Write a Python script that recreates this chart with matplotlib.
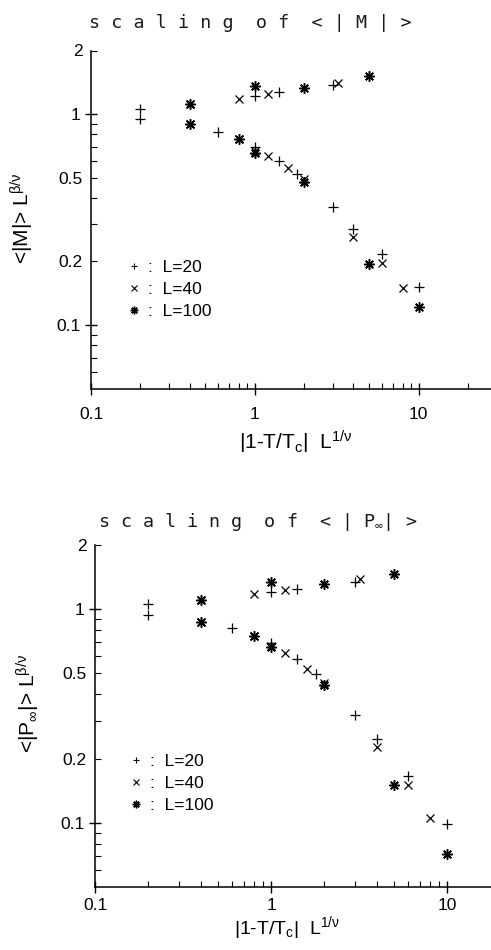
import matplotlib
matplotlib.use("Agg")
import matplotlib.pyplot as plt
from matplotlib.ticker import FixedLocator, NullFormatter, FixedFormatter
from matplotlib.lines import Line2D

plt.rcParams['font.family'] = ['Liberation Sans', 'DejaVu Sans']
plt.rcParams['mathtext.default'] = 'regular'

# ---------------- data: scaling of <|M|> ----------------
m_L20_x = [0.2, 0.2, 0.6, 1.0, 1.0, 1.4, 1.4, 1.8, 3.0, 3.0, 4.0, 6.0, 10.0]
m_L20_y = [1.056, 0.944, 0.824, 1.22, 0.70, 1.27, 0.597, 0.518, 1.372, 0.361, 0.285, 0.217, 0.151]
m_L40_x = [0.4, 0.4, 0.8, 0.8, 1.0, 1.2, 1.2, 1.6, 2.0, 3.2, 4.0, 6.0, 8.0]
m_L40_y = [1.115, 0.897, 1.178, 0.761, 0.668, 1.248, 0.632, 0.553, 0.49, 1.41, 0.262, 0.197, 0.15]
m_L100_x = [0.4, 0.4, 0.8, 1.0, 1.0, 2.0, 2.0, 5.0, 5.0, 10.0]
m_L100_y = [1.115, 0.897, 0.758, 1.362, 0.655, 1.328, 0.475, 1.514, 0.195, 0.122]

# ---------------- data: scaling of <|P_inf|> ----------------
p_L20_x = [0.2, 0.2, 0.6, 1.0, 1.0, 1.4, 1.4, 1.8, 3.0, 3.0, 4.0, 6.0, 10.0]
p_L20_y = [1.055, 0.941, 0.814, 1.195, 0.69, 1.242, 0.587, 0.495, 1.343, 0.32, 0.247, 0.165, 0.099]
p_L40_x = [0.4, 0.4, 0.8, 0.8, 1.0, 1.2, 1.2, 1.6, 2.0, 3.2, 4.0, 6.0, 8.0]
p_L40_y = [1.097, 0.873, 1.173, 0.748, 0.675, 1.233, 0.624, 0.527, 0.45, 1.377, 0.227, 0.15, 0.105]
p_L100_x = [0.4, 0.4, 0.8, 1.0, 1.0, 2.0, 2.0, 5.0, 5.0, 10.0]
p_L100_y = [1.097, 0.873, 0.748, 1.343, 0.665, 1.305, 0.442, 1.45, 0.15, 0.072]

legend_labels = [':  L=20', ':  L=40', ':  L=100']
x_ticks = [0.1, 1, 10]
x_tick_labels = ['0.1', '1', '10']
y_major = [0.1, 1]
y_minor_labels = {0.2: '0.2', 0.5: '0.5', 2: '2'}

W, H = 491, 950
fig = plt.figure(figsize=(W / 100, H / 100), dpi=100)


def px_axes(left, right, top, bottom):
    return [left / W, 1 - bottom / H, (right - left) / W, (bottom - top) / H]


ax1 = fig.add_axes(px_axes(91, 491, 50.5, 388.5))
ax2 = fig.add_axes(px_axes(95, 491, 544.6, 887.4))

ast = (8, 2, 0)
mk = dict(ls='none', color='black')


def draw(ax, d20, d40, d100):
    ax.plot(*d20, marker='+', ms=7, mew=0.9, **mk)
    ax.plot(*d40, marker='x', ms=5.5, mew=0.9, **mk)
    ax.plot(*d100, marker=ast, ms=7.5, mew=1.1, **mk)


def style(ax, xmax, xpad):
    ax.set_xscale('log')
    ax.set_yscale('log')
    ax.set_xlim(0.1, xmax)
    ax.set_ylim(0.05, 2)
    for s in ['top', 'right']:
        ax.spines[s].set_visible(False)
    for s in ['left', 'bottom']:
        ax.spines[s].set_linewidth(1.1)
    ax.xaxis.set_major_locator(FixedLocator(x_ticks))
    ax.xaxis.set_major_formatter(FixedFormatter(x_tick_labels))
    xm = [k * 10.0 ** e for e in (-1, 0, 1) for k in range(2, 10)]
    ax.xaxis.set_minor_locator(FixedLocator(xm))
    ax.xaxis.set_minor_formatter(NullFormatter())
    ax.yaxis.set_major_locator(FixedLocator(y_major))
    ax.yaxis.set_major_formatter(FixedFormatter(['0.1', '1']))
    ym = [0.06, 0.07, 0.08, 0.09] + [k / 10 for k in range(2, 10)] + [2]
    ax.yaxis.set_minor_locator(FixedLocator(ym))
    ax.yaxis.set_minor_formatter(
        FixedFormatter([y_minor_labels.get(round(v, 2), '') for v in ym]))
    ax.tick_params(axis='both', which='major', direction='inout', length=9,
                   width=1.0, labelsize=12.5)
    ax.tick_params(axis='both', which='minor', direction='in', length=4,
                   width=0.8, labelsize=12.5)
    ax.tick_params(axis='y', which='major', pad=3)
    ax.tick_params(axis='y', which='minor', pad=6.3)
    ax.tick_params(axis='x', which='major', pad=xpad)
    ax.tick_params(axis='x', which='minor', pad=xpad)


draw(ax1, (m_L20_x, m_L20_y), (m_L40_x, m_L40_y), (m_L100_x, m_L100_y))
draw(ax2, (p_L20_x, p_L20_y), (p_L40_x, p_L40_y), (p_L100_x, p_L100_y))
style(ax1, 10 ** (400 / 163.8 - 1), 9)
style(ax2, 10 ** (396 / 176 - 1), 3)

handles = [Line2D([], [], marker='+', ms=5, mew=0.8, **mk),
           Line2D([], [], marker='x', ms=4.5, mew=0.8, **mk),
           Line2D([], [], marker=ast, ms=5.5, mew=1.0, **mk)]
for ax, anchor in ((ax1, (0.095, 0.38)), (ax2, (0.09, 0.39))):
    ax.legend(handles, legend_labels, loc='upper left', bbox_to_anchor=anchor,
              frameon=False, fontsize=12.5, handlelength=0.6,
              handletextpad=0.5, labelspacing=0.4, borderpad=0, borderaxespad=0)

title_font = dict(family='DejaVu Sans Mono', fontsize=13.2, color='#1a1a1a',
                  ha='center', va='center')
fig.text(250 / W, 1 - 23 / H, 's c a l i n g  o f  < | M | >', **title_font)
fig.text(258 / W, 1 - 522 / H, r's c a l i n g  o f  < | P$_{\infty}$| >', **title_font)

fig.text(22 / W, 1 - 218 / H, r'<|M|> L$^{\beta/\nu}$', rotation=90,
         ha='center', va='center', fontsize=15)
fig.text(28 / W, 1 - 703 / H, r'<|P$_{\infty}$|> L$^{\beta/\nu}$', rotation=90,
         ha='center', va='center', fontsize=15)
fig.text(296 / W, 1 - 442 / H, r'|1-T/T$_c$|  L$^{1/\nu}$',
         ha='center', va='center', fontsize=15)
fig.text(287 / W, 1 - 928 / H, r'|1-T/T$_c$|  L$^{1/\nu}$',
         ha='center', va='center', fontsize=14)

fig.savefig('out.png', dpi=100)
